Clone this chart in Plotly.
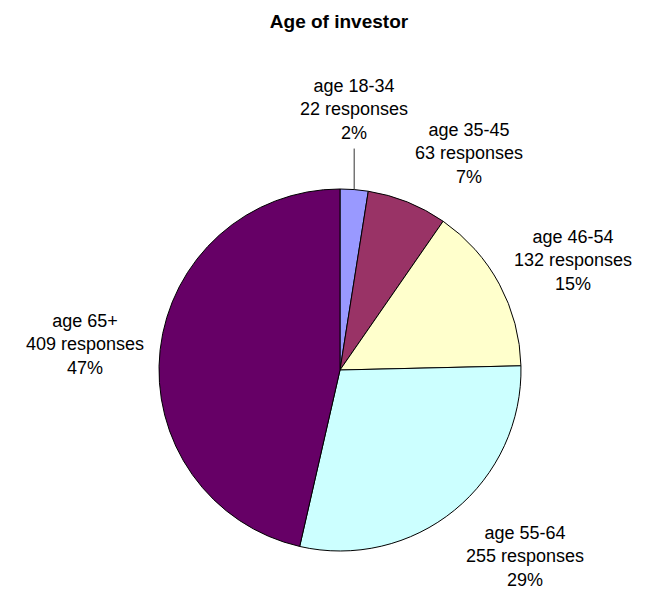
import math
import plotly.graph_objects as go

categories = ["age 18-34", "age 35-45", "age 46-54", "age 55-64", "age 65+"]
responses = [22, 63, 132, 255, 409]
percent_labels = ["2%", "7%", "15%", "29%", "47%"]
colors = ["#9999FF", "#993366", "#FFFFCC", "#CCFFFF", "#660066"]

W, H = 646, 589
OFF = 8  # page body margin
FONT = "Liberation Sans, Arial"
FS = 18
TEXT_H = 3 * FS * 1.3  # approx height of a 3-line label

dom_x = [(159 - OFF) / W, (521 - OFF) / W]
dom_y = [1 - (551 - OFF) / H, 1 - (189 - OFF) / H]

fig = go.Figure(go.Pie(
    labels=categories,
    values=responses,
    textinfo="none",
    sort=False,
    direction="clockwise",
    rotation=0,
    marker=dict(colors=colors, line=dict(color="black", width=1)),
    domain=dict(x=dom_x, y=dom_y),
    hoverinfo="label+value+percent",
))

# label placement derived from slice angles
cx = (dom_x[0] + dom_x[1]) / 2 * W
cy = (1 - (dom_y[0] + dom_y[1]) / 2) * H
R = min((dom_x[1] - dom_x[0]) * W, (dom_y[1] - dom_y[0]) * H) / 2
total = sum(responses)
cum = 0
annotations = []
for c, v, p in zip(categories, responses, percent_labels):
    theta = math.radians(360 * (cum + v / 2) / total)
    cum += v
    s, co = math.sin(theta), math.cos(theta)
    text = f"{c}<br>{v} responses<br>{p}"
    if v / total < 0.04:
        px, py = cx + R * s, cy - R * co
        annotations.append(dict(
            x=px / W, y=1 - py / H, xref="paper", yref="paper",
            text=text, showarrow=True, arrowhead=0, arrowwidth=1, arrowcolor="#333333",
            ax=0, ay=-80, borderpad=5, align="center",
            font=dict(family=FONT, size=FS, color="black"),
        ))
    else:
        d = 1.08 * R
        px, py = cx + d * s, cy - d * co
        xa = "left" if s > 0.3 else ("right" if s < -0.3 else "center")
        ya = "bottom" if co > 0.5 else ("top" if co < -0.5 else "middle")
        ysh = TEXT_H / 2 * co if ya == "middle" else 0
        annotations.append(dict(
            x=px / W, y=1 - py / H, xref="paper", yref="paper",
            text=text, showarrow=False, xanchor=xa, yanchor=ya, align="center",
            yshift=ysh,
            font=dict(family=FONT, size=FS, color="black"),
        ))

fig.update_layout(
    width=W, height=H,
    margin=dict(l=0, r=0, t=0, b=0),
    showlegend=False,
    paper_bgcolor="white",
    annotations=annotations,
    title=dict(text="<b>Age of investor</b>", x=(339 - OFF) / W, xanchor="center", y=1 - (21 - OFF) / H, yanchor="middle",
               font=dict(family=FONT, size=19, color="black")),
)

fig.write_html("out.html")
